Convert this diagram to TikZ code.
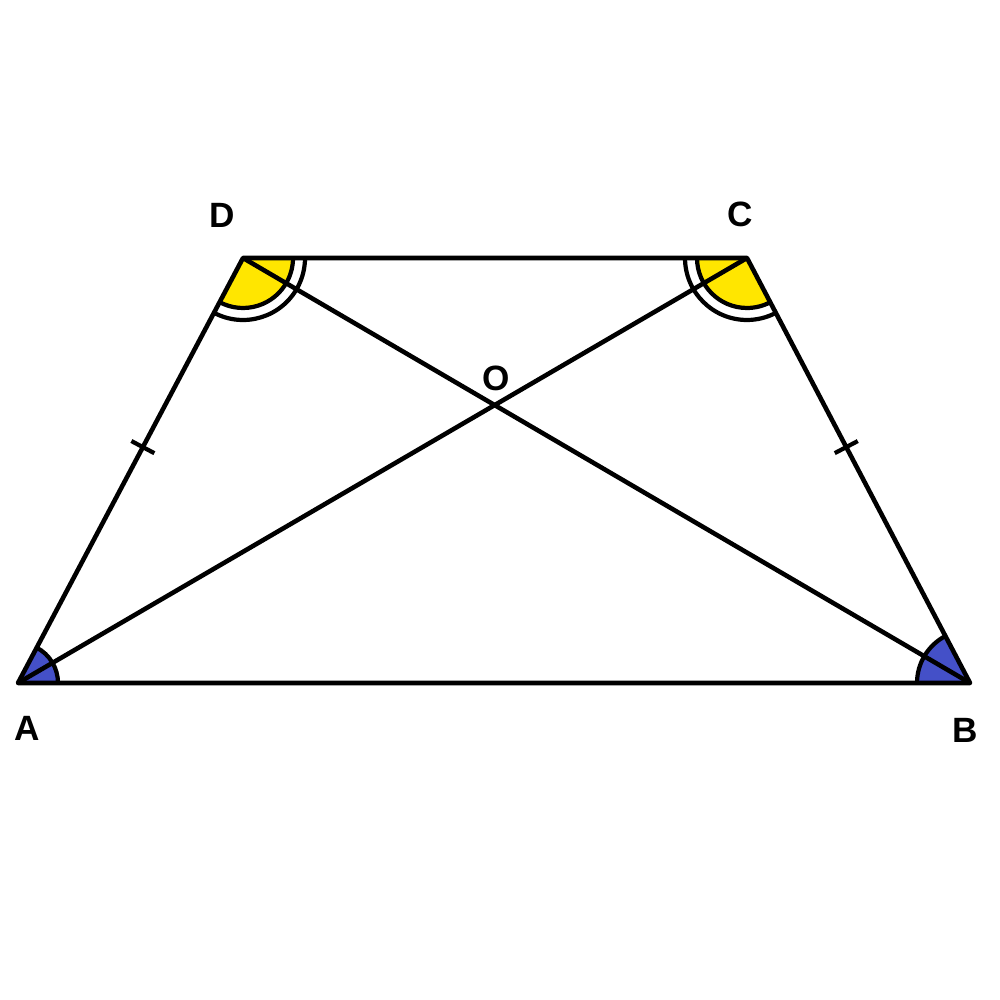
\documentclass[tikz,border=0pt]{standalone}
\usepackage{fontspec}
\setmainfont{Liberation Sans}
\usetikzlibrary{angles}
\definecolor{angblue}{RGB}{68,80,200}
\definecolor{angyellow}{RGB}{255,230,0}
\tikzset{
  side/.style={line width=1.3pt},
  lbl/.style={font=\fontsize{10}{12}\selectfont\bfseries},
  tick/.style={draw, line width=1.2pt, minimum width=0pt, minimum height=0.26cm, inner sep=0pt},
  blueang/.style={draw, line width=1.2pt, fill=angblue},
  yellowang/.style={draw, line width=1.2pt, fill=angyellow, angle radius=0.5cm},
  outerang/.style={draw, line width=1.2pt, angle radius=0.62cm}
}
\begin{document}
\begin{tikzpicture}
    \useasboundingbox (0,0) rectangle (10,10);
    \coordinate (A) at (0.18,3.17);
    \coordinate (B) at (9.70,3.17);
    \coordinate (C) at (7.47,7.42);
    \coordinate (D) at (2.43,7.42);
    \coordinate (O) at (intersection of A--C and B--D);

    % angle marks
    \pic[blueang, angle radius=0.4cm] {angle=B--A--D};
    \pic[blueang, angle radius=0.53cm] {angle=C--B--A};
    \pic[yellowang] {angle=A--D--C};
    \pic[outerang] {angle=A--D--C};
    \pic[yellowang] {angle=D--C--B};
    \pic[outerang] {angle=D--C--B};

    \draw[side, line join=round] (A) -- (B) -- (C) -- (D) -- cycle;
    \draw[side] (A) -- (C);
    \draw[side] (B) -- (D);
    \path (A) -- (D) node[pos=0.555, sloped, tick] {};
    \path (B) -- (C) node[pos=0.555, sloped, tick] {};

    \node[lbl] (lA) at (0.27,2.72) {A};
    \node[lbl] (lB) at (9.65,2.70) {B};
    \node[lbl] (lC) at (7.40,7.86) {C};
    \node[lbl] (lD) at (2.22,7.85) {D};
    \node[lbl] (lO) at (4.96,6.22) {O};
\end{tikzpicture}
\end{document}
